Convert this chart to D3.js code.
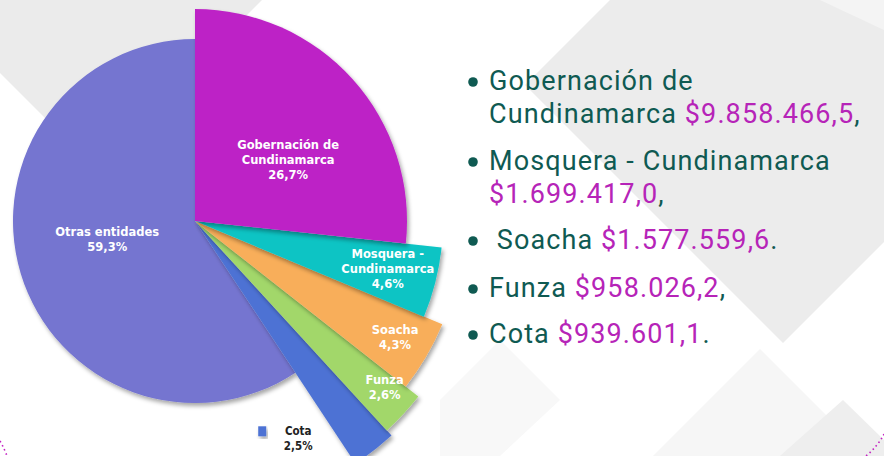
<!DOCTYPE html>
<html>
<head>
<meta charset="utf-8">
<script src="https://cdn.jsdelivr.net/npm/d3@7"></script>
<style>
  html, body { margin: 0; padding: 0; background: #ffffff; }
  svg { display: block; }
</style>
</head>
<body>
<div class="chart"></div>
<script>
// datos
var entidades = ["Gobernación de Cundinamarca", "Mosquera - Cundinamarca", "Soacha", "Funza", "Cota", "Otras entidades"];
var porcentajes = [26.7, 4.6, 4.3, 2.6, 2.5, 59.3];
var etiquetas = [["Gobernación de", "Cundinamarca"], ["Mosquera -", "Cundinamarca"], ["Soacha"], ["Funza"], ["Cota"], ["Otras entidades"]];
var listaNombres = [["Gobernación de", "Cundinamarca"], ["Mosquera - Cundinamarca"], [" Soacha"], ["Funza"], ["Cota"]];
var listaMontos = ["$9.858.466,5", "$1.699.417,0", "$1.577.559,6", "$958.026,2", "$939.601,1"];
var listaFin = [",", ",", ".", ",", "."];

// estilo
var colores = ["#bd22c6", "#0ac4c4", "#f8ae5a", "#a2d76a", "#4d72d4", "#7474d0"];
var radios = [212, 248, 268, 284, 291, 182];
var radioEtiqueta = [111, 199, 232, 253, 0, 90];
var giroEtiqueta = [9, 0, 0, -1.4, 0, 4];

var width = 884, height = 456;
var cx = 195, cy = 221;

var svg = d3.select(".chart").append("svg")
    .attr("width", width)
    .attr("height", height);

var defs = svg.append("defs");
var sombra = defs.append("filter").attr("id", "sombra")
    .attr("x", "-20%").attr("y", "-20%").attr("width", "140%").attr("height", "140%");
sombra.append("feDropShadow")
    .attr("dx", 2).attr("dy", 3).attr("stdDeviation", 2)
    .attr("flood-color", "#000").attr("flood-opacity", 0.35);

/*
    Fondo
*/
var fondo = svg.append("g");
fondo.append("polygon")
    .attr("points", "0,0 262,0 150,112 60,133 0,73")
    .attr("fill", "#ebebeb");
fondo.append("polygon")
    .attr("points", "610,0 525,85 783,343 884,242 884,0")
    .attr("fill", "#ececec");
fondo.append("polygon")
    .attr("points", "884,30 820,0 884,0")
    .attr("fill", "#f4f4f4");
fondo.append("polygon")
    .attr("points", "653,456 760,349 867,456")
    .attr("fill", "#f6f6f6");
fondo.append("polygon")
    .attr("points", "780,456 843,400 884,440 884,456")
    .attr("fill", "#eeeeee");
fondo.append("polygon")
    .attr("points", "440,400 500,340 560,400 500,456 440,456")
    .attr("fill", "#f8f8f8");

fondo.append("path")
    .attr("d", "M0,441 Q5,450 7,456")
    .attr("fill", "none").attr("stroke", "#c21fc2").attr("stroke-width", 1.6)
    .attr("stroke-dasharray", "1.5,3");
fondo.append("path")
    .attr("d", "M884,434 Q878,446 866,456")
    .attr("fill", "none").attr("stroke", "#c21fc2").attr("stroke-width", 1.6)
    .attr("stroke-dasharray", "1.5,3");

/*
    Pastel
*/
var pie = d3.pie().sort(null).value(function (d) { return d; });
var arcs = pie(porcentajes);

var g = svg.append("g").attr("transform", "translate(" + cx + "," + cy + ")");

// Otras entidades primero (detrás), luego el resto en orden inverso
var orden = [5, 4, 3, 2, 1, 0];
g.selectAll("path.tajada")
    .data(orden.map(function (i) { return arcs[i]; }))
    .enter().append("path")
    .attr("class", "tajada")
    .attr("fill", function (d) { return colores[d.index]; })
    .attr("filter", "url(#sombra)")
    .attr("d", function (d) {
        return d3.arc().innerRadius(0).outerRadius(radios[d.index])(d);
    });

var polar = function (ang, r) {
    return [Math.sin(ang) * r, -Math.cos(ang) * r];
};
var pct = function (v) { return d3.format(".1f")(v).replace(".", ",") + "%"; };

var etiq = g.selectAll("text.etiqueta")
    .data(arcs.filter(function (d) { return radioEtiqueta[d.index] > 0; }))
    .enter().append("text")
    .attr("class", "etiqueta")
    .attr("text-anchor", "middle")
    .attr("font-family", "DejaVu Sans, Verdana, sans-serif")
    .attr("font-weight", "bold")
    .attr("font-size", 11.5)
    .attr("fill", "#ffffff")
    .attr("transform", function (d) {
        var a = (d.startAngle + d.endAngle) / 2 + giroEtiqueta[d.index] * Math.PI / 180;
        var p = polar(a, radioEtiqueta[d.index]);
        return "translate(" + p[0] + "," + (p[1] - 1) + ")";
    });
etiq.each(function (d) {
    var lineas = etiquetas[d.index].concat([pct(porcentajes[d.index])]);
    var t = d3.select(this);
    var n = lineas.length;
    lineas.forEach(function (l, k) {
        t.append("tspan")
            .attr("x", 0)
            .attr("y", (k - (n - 1) / 2) * 15 + 4)
            .text(l);
    });
});

// leyenda de Cota (fuera del pastel)
var cota = arcs[4];
var aC = (cota.startAngle + cota.endAngle) / 2;
var pC = polar(aC, 145);
var ley = g.append("g").attr("transform", "translate(" + (pC[0] - 22) + "," + (pC[1] + 96) + ")");
ley.append("rect")
    .attr("x", -4).attr("y", -5).attr("width", 8).attr("height", 10)
    .attr("fill", colores[4]).attr("filter", "url(#sombra)");
var tC = ley.append("text")
    .attr("text-anchor", "middle")
    .attr("font-family", "DejaVu Sans Condensed, sans-serif")
    .attr("font-weight", "bold")
    .attr("font-size", 11.5)
    .attr("fill", "#222");
tC.append("tspan").attr("x", 36).attr("y", 4).text(etiquetas[4][0]);
tC.append("tspan").attr("x", 36).attr("y", 19).text(pct(porcentajes[4]));

/*
    Lista
*/
var lista = svg.append("g").attr("transform", "translate(473,0)");
var bases = [[90, 123], [170, 203], [249], [297], [343]];
var fs = 27;
var fuente = "Roboto, Open Sans, sans-serif";
listaNombres.forEach(function (nombre, i) {
    lista.append("circle")
        .attr("cx", 0).attr("cy", bases[i][0] - 8)
        .attr("r", 4.8)
        .attr("fill", "#0f5a52");
    // un solo texto por viñeta, con una tspan por renglón
    var t = lista.append("text")
        .attr("font-family", fuente)
        .attr("font-size", fs)
        .attr("letter-spacing", 1.1)
        .attr("fill", "#0f5a52")
        .attr("xml:space", "preserve");
    nombre.forEach(function (linea, k) {
        t.append("tspan").attr("x", 16).attr("y", bases[i][k]).text(linea);
    });
    if (bases[i].length > nombre.length) {
        t.append("tspan").attr("x", 16).attr("y", bases[i][nombre.length])
            .attr("fill", "#b624b8").text(listaMontos[i]);
    } else {
        t.append("tspan").attr("fill", "#b624b8").text(" " + listaMontos[i]);
    }
    t.append("tspan").text(listaFin[i]);
});
</script>
</body>
</html>
